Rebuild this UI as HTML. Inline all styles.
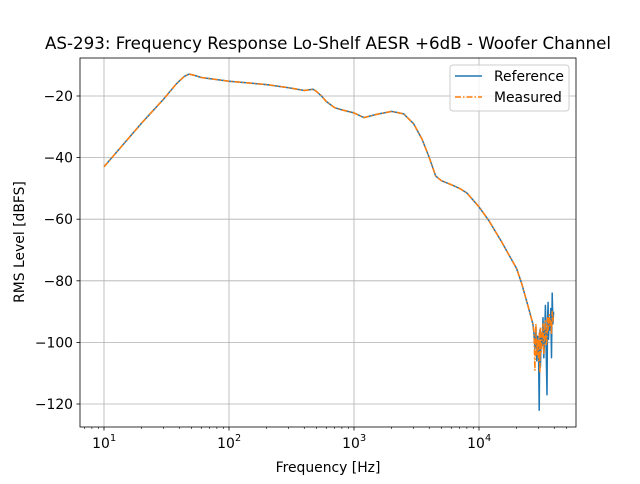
<!DOCTYPE html>
<html><head><meta charset="utf-8"><style>
body{margin:0;background:#fff;font-family:"DejaVu Sans","Liberation Sans",sans-serif}
</style></head><body>
<svg id="chart" width="640" height="480" xmlns="http://www.w3.org/2000/svg" font-family="DejaVu Sans, Liberation Sans, sans-serif">
<rect width="640" height="480" fill="#fff"/>
<g id="grid"></g>
<g id="plot"></g>
<rect x="80" y="58" width="496" height="369" fill="none" stroke="#000" stroke-width="0.8"/>
<g id="ticks" font-size="13.9"></g>
<text x="328" y="49" font-size="16.7" text-anchor="middle">AS-293: Frequency Response Lo-Shelf AESR +6dB - Woofer Channel</text>
<text x="328" y="472" font-size="13.9" text-anchor="middle">Frequency [Hz]</text>
<text transform="translate(24,242) rotate(-90)" font-size="13.9" text-anchor="middle">RMS Level [dBFS]</text>
<g>
<rect x="450" y="65" width="119" height="46" rx="3" fill="#fff" fill-opacity="0.8" stroke="#ccc"/>
<line x1="455" y1="76" x2="482" y2="76" stroke="#1f77b4" stroke-width="1.5"/>
<text x="494" y="81" font-size="13.9">Reference</text>
<line x1="455" y1="97" x2="482" y2="97" stroke="#ff7f0e" stroke-width="1.5" stroke-dasharray="6,2,1.5,2"/>
<text x="494" y="102" font-size="13.9">Measured</text>
</g>
</svg>
<script>
const freqs=[10,20,30,38,44,48,53,60,100,200,300,400,440,470,500,550,600,700,800,1000,1200,1500,2000,2500,3000,3500,4000,4500,5000,6000,7000,8000,10000,12000,15000,20000,22000,25000,27000];
const refDb=[-43,-28.8,-21,-16,-13.6,-12.9,-13.3,-14,-15.2,-16.3,-17.3,-18.2,-18,-17.8,-18.5,-20,-21.8,-23.8,-24.5,-25.5,-27,-26,-25,-25.8,-29,-34,-40,-46,-47.5,-48.8,-50,-51.5,-56,-60.5,-67,-76,-81,-89,-94];
const noiseF=[27500,28000,28500,29000,29500,30000,30300,30700,31000,31500,32000,32500,33000,33500,34000,34500,35000,35300,35700,36000,36500,37000,37500,38000,38500,39000,39500];
const noiseRef=[-97,-102,-95,-106,-98,-104,-122,-96,-108,-97,-101,-92,-105,-99,-88,-103,-117,-93,-87,-99,-92,-96,-89,-105,-84,-94,-90];
const noiseMeas=[-96,-109,-94,-104,-99,-106,-97,-110,-95,-103,-98,-94,-104,-97,-93,-101,-99,-92,-96,-94,-91,-95,-93,-97,-90,-93,-91];
const xTicks=[1,2,3,4];
const yTicks=[-20,-40,-60,-80,-100,-120];
const X=f=>104+(Math.log10(f)-1)*125;
const Y=d=>96+(-20-d)*3.08;
const NS='http://www.w3.org/2000/svg';
function mk(t,a,p){const e=document.createElementNS(NS,t);for(const k in a)e.setAttribute(k,a[k]);p.appendChild(e);return e;}
const grid=document.getElementById('grid'),ticks=document.getElementById('ticks'),plot=document.getElementById('plot');
xTicks.forEach(p=>{const x=X(Math.pow(10,p));
 const g=mk('line',{x1:x,x2:x,y1:58,y2:427,stroke:'#b0b0b0','stroke-width':0.8},grid);
 
 
 mk('line',{x1:x,x2:x,y1:427,y2:430.5,stroke:'#000','stroke-width':0.8},ticks);
 const t=mk('text',{x:x-3,y:448,'text-anchor':'middle'},ticks);t.textContent='10';
 
 
 const s=mk('text',{x:x+6,y:441,'font-size':9.7},ticks);s.textContent=p;
 for(let m=2;m<10;m++){const xm=X(m*Math.pow(10,p-1));if(xm>80)mk('line',{x1:xm,x2:xm,y1:427,y2:429,stroke:'#000','stroke-width':0.6},ticks);}
 if(p===4)for(let m=2;m<7;m++){const xm=X(m*1e4);if(xm<576)mk('line',{x1:xm,x2:xm,y1:427,y2:429,stroke:'#000','stroke-width':0.6},ticks);}
});
yTicks.forEach(v=>{const y=Y(v);
 const g=mk('line',{x1:80,x2:576,y1:y,y2:y,stroke:'#b0b0b0','stroke-width':0.8},grid);
 
 
 mk('line',{x1:76.5,x2:80,y1:y,y2:y,stroke:'#000','stroke-width':0.8},ticks);
 const t=mk('text',{x:73,y:y+5,'text-anchor':'end'},ticks);t.textContent='−'+Math.abs(v);
 
 
});
const refF=freqs.concat(noiseF),refV=refDb.concat(noiseRef),measV=refDb.concat(noiseMeas);
const pts=v=>refF.map((f,i)=>X(f).toFixed(1)+','+Y(v[i]).toFixed(1)).join(' ');
const r=mk('polyline',{points:pts(refV),fill:'none',stroke:'#1f77b4','stroke-width':1.5,'stroke-linejoin':'round'},plot);


const m=mk('polyline',{points:pts(measV),fill:'none',stroke:'#ff7f0e','stroke-width':1.5,'stroke-dasharray':'6,2,1.5,2','stroke-linejoin':'round'},plot);


</script>
</body></html>
